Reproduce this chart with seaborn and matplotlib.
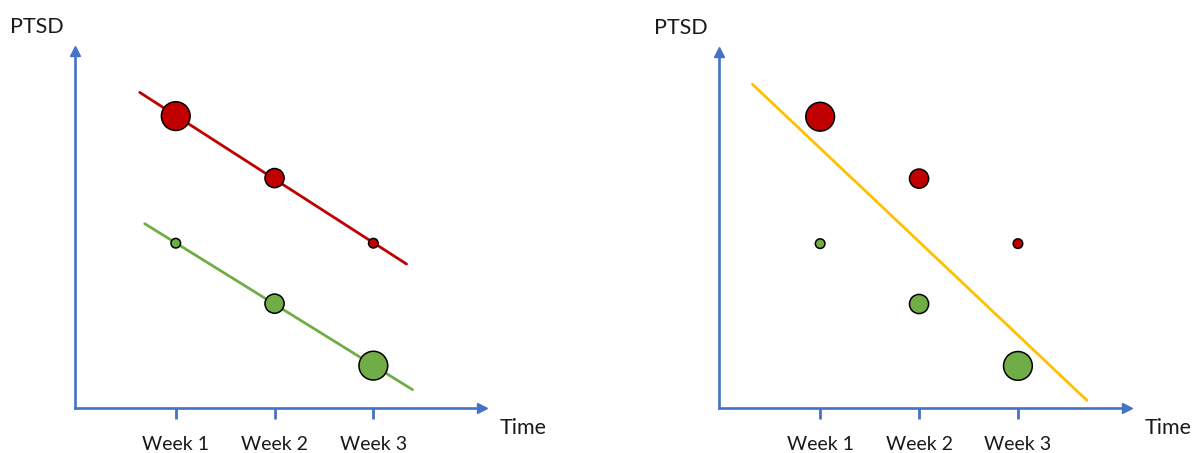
import matplotlib
matplotlib.use("Agg")
import matplotlib.pyplot as plt
import numpy as np
import pandas as pd
import seaborn as sns

# data
weeks = [1, 2, 3]
week_labels = ["Week 1", "Week 2", "Week 3"]
red_ptsd = [9.4, 7.4, 5.3]
green_ptsd = [5.3, 3.35, 1.35]
red_n = [3, 2, 1]      # bubble size = weight
green_n = [1, 2, 3]

RED = "#C00000"
GREEN = "#70AD47"
YELLOW = "#FFC000"
BLUE = "#4472C4"
TEXT = "#1a1a1a"

df = pd.DataFrame({
    "week": weeks * 2,
    "ptsd": red_ptsd + green_ptsd,
    "n": red_n + green_n,
    "group": ["red"] * 3 + ["green"] * 3,
})

sns.set_style("white")
plt.rcParams["font.family"] = ["Lato", "DejaVu Sans"]

W, H = 1201, 453
fig = plt.figure(figsize=(W / 100, H / 100), dpi=100)


def px_axes(x0, y0, x1, y1):
    # pixel box (top-left origin) -> figure fraction
    return fig.add_axes([x0 / W, 1 - y0 / H, (x1 - x0) / W, (y0 - y1) / H])


def fit(x, y, w=None):
    x = np.asarray(x, float)
    y = np.asarray(y, float)
    w = None if w is None else np.sqrt(np.asarray(w, float))
    return np.polyfit(x, y, 1, w=w)


def fit_line(ax, coef, span, color):
    xs = np.array(span)
    sns.lineplot(x=xs, y=np.polyval(coef, xs), color=color, lw=2, ax=ax, zorder=1)


def bubbles(ax):
    sns.scatterplot(data=df, x="week", y="ptsd", hue="group",
                    palette={"red": RED, "green": GREEN},
                    size="n", sizes={k: (6.9 * k) ** 2 for k in (1, 2, 3)},
                    edgecolor="black", linewidth=1.1, legend=False,
                    zorder=3, ax=ax)


def style_axes(ax):
    ax.set_xlim(-0.02, 4.1)
    ax.set_ylim(0, 11.5)
    for s in ["top", "right"]:
        ax.spines[s].set_visible(False)
    for s in ["left", "bottom"]:
        ax.spines[s].set_color(BLUE)
        ax.spines[s].set_linewidth(1.9)
    ax.set_xticks(weeks, week_labels, fontsize=14)
    ax.set_yticks([])
    ax.tick_params(axis="x", bottom=True, direction="out", length=8, width=2,
                   color=BLUE, pad=12.5, labelcolor=TEXT)
    ax.set_xlabel("")
    ax.set_ylabel("")
    # arrow heads
    ax.plot(1, 0, ">", color=BLUE, ms=7.5, transform=ax.transAxes, clip_on=False)
    ax.plot(0, 1, "^", color=BLUE, ms=7.5, transform=ax.transAxes, clip_on=False)
    ax.annotate("PTSD", xy=(0, 1), xycoords="axes fraction", xytext=(-65, 24),
                textcoords="offset pixels", ha="left", va="center",
                fontsize=15.5, color=TEXT)
    ax.annotate("Time", xy=(1, 0), xycoords="axes fraction", xytext=(18, -20),
                textcoords="offset pixels", ha="left", va="center",
                fontsize=15.5, color=TEXT)


# left: separate trend per group
ax1 = px_axes(75, 407.5, 482, 51)
fit_line(ax1, fit(weeks, red_ptsd), (0.635, 3.336), RED)
fit_line(ax1, fit(weeks, green_ptsd), (0.686, 3.397), GREEN)
bubbles(ax1)
style_axes(ax1)

# right: one pooled trend, weighted by bubble size
ax2 = px_axes(719.3, 407.7, 1126.7, 51.7)
fit_line(ax2, fit(df["week"], df["ptsd"], df["n"]), (0.315, 3.698), YELLOW)
bubbles(ax2)
style_axes(ax2)

fig.savefig("out.png", dpi=100)
